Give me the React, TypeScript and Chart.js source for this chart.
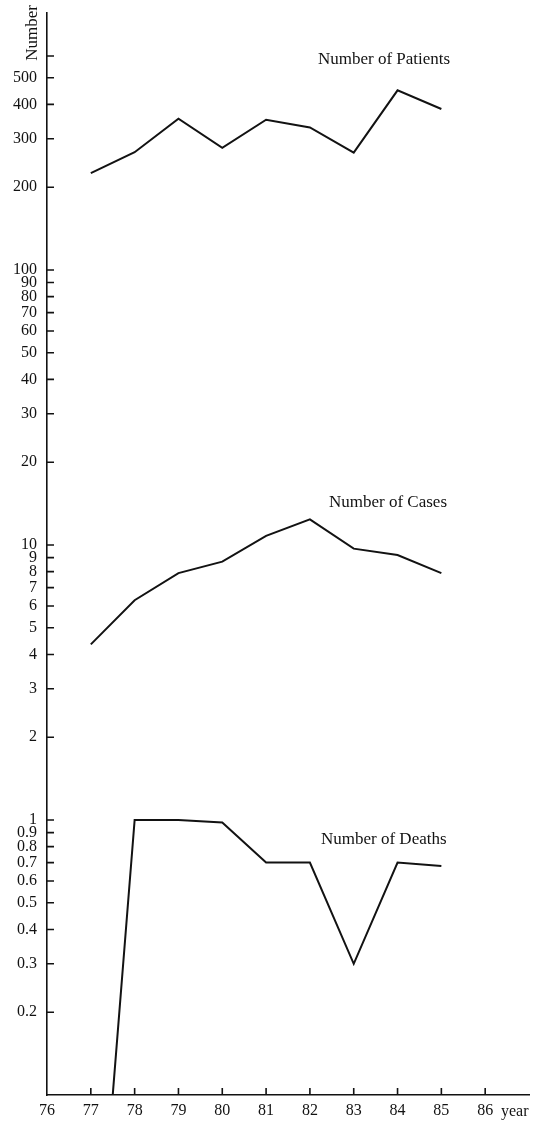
import { useEffect, useRef } from "react";
import { Chart, registerables } from "chart.js";

Chart.register(...registerables);

// ---- data ----
const years = [77, 78, 79, 80, 81, 82, 83, 84, 85];
const patients = [225, 268, 355, 278, 352, 330, 267, 450, 385];
const cases = [4.35, 6.3, 7.9, 8.7, 10.8, 12.4, 9.7, 9.2, 7.9];
const deaths = [0.01, 1.0, 1.0, 0.98, 0.7, 0.7, 0.3, 0.7, 0.68];

const yTickValues = [
  0.2, 0.3, 0.4, 0.5, 0.6, 0.7, 0.8, 0.9, 1,
  2, 3, 4, 5, 6, 7, 8, 9, 10,
  20, 30, 40, 50, 60, 70, 80, 90, 100,
  200, 300, 400, 500, 600,
];
const yUnlabeled = [600];
const xTickValues = [76, 77, 78, 79, 80, 81, 82, 83, 84, 85, 86];

const seriesNames = ["Number of Patients", "Number of Cases", "Number of Deaths"];
const yAxisTitle = "Number";
const xAxisTitle = "year";

export default function App() {
  const ref = useRef<HTMLCanvasElement>(null);

  useEffect(() => {
    const canvas = ref.current;
    if (!canvas) return;
    const ink = "#121212";
    const serif = '"Liberation Serif", "DejaVu Serif", serif';
    const toPoints = (vals: number[]) => years.map((x, i) => ({ x, y: vals[i] }));

    const annotate = {
      id: "annotate",
      afterDraw(chart: any) {
        const { ctx, chartArea: a, scales } = chart;
        const xs = scales.x;
        const ys = scales.y;
        ctx.save();
        ctx.strokeStyle = ink;
        ctx.lineWidth = 1.6;
        ctx.beginPath();
        for (const v of yTickValues) {
          const p = ys.getPixelForValue(v);
          ctx.moveTo(a.left, p);
          ctx.lineTo(a.left + 7, p);
        }
        for (const v of xTickValues) {
          if (v === xs.min) continue;
          const p = xs.getPixelForValue(v);
          ctx.moveTo(p, a.bottom);
          ctx.lineTo(p, a.bottom - 7);
        }
        ctx.stroke();

        ctx.fillStyle = ink;
        ctx.font = `17px ${serif}`;
        ctx.textAlign = "left";
        ctx.textBaseline = "alphabetic";
        ctx.fillText(seriesNames[0], 318, 64);
        ctx.fillText(seriesNames[1], 329, 507);
        ctx.fillText(seriesNames[2], 321, 844);

        ctx.font = `16px ${serif}`;
        ctx.textBaseline = "middle";
        ctx.fillText(xAxisTitle, 501, 1112);

        ctx.translate(33, 33);
        ctx.rotate(-Math.PI / 2);
        ctx.textAlign = "center";
        ctx.font = `17px ${serif}`;
        ctx.fillText(yAxisTitle, 0, 0);
        ctx.restore();
      },
    };

    const lineStyle = {
      borderColor: ink,
      borderWidth: 2,
      pointRadius: 0,
      tension: 0,
      fill: false,
      borderJoinStyle: "miter" as const,
    };

    const chart = new Chart(canvas, {
      type: "line",
      data: {
        datasets: [
          { label: seriesNames[0], data: toPoints(patients), ...lineStyle },
          { label: seriesNames[1], data: toPoints(cases), ...lineStyle },
          { label: seriesNames[2], data: toPoints(deaths), ...lineStyle },
        ],
      },
      options: {
        responsive: false,
        animation: false,
        layout: { padding: { top: 13, right: 14, left: 0, bottom: 0 } },
        plugins: {
          legend: { display: false },
          tooltip: { enabled: false },
        },
        scales: {
          x: {
            type: "linear",
            min: 76,
            max: 87,
            bounds: "data",
            afterBuildTicks: (s: any) => {
              s.ticks = xTickValues.map((v) => ({ value: v }));
            },
            afterFit: (s: any) => {
              s.height = 28;
              s.paddingLeft = 0;
              s.paddingRight = 0;
            },
            grid: { display: false, drawTicks: false },
            border: { display: true, color: ink, width: 1.6 },
            ticks: {
              autoSkip: false,
              maxRotation: 0,
              padding: 6,
              color: ink,
              font: { family: serif, size: 16 },
              callback: (v: any) => String(v),
            },
          },
          y: {
            type: "logarithmic",
            min: 0.1,
            max: 860,
            bounds: "data",
            afterBuildTicks: (s: any) => {
              s.ticks = yTickValues.map((v) => ({ value: v }));
            },
            afterFit: (s: any) => {
              s.width = 47;
              s.paddingTop = 0;
              s.paddingBottom = 0;
            },
            grid: { display: false, drawTicks: false },
            border: { display: true, color: ink, width: 1.6 },
            ticks: {
              autoSkip: false,
              padding: 10,
              color: ink,
              font: { family: serif, size: 16 },
              callback: (v: any) => (yUnlabeled.includes(Number(v)) ? "" : String(v)),
            },
          },
        },
      },
      plugins: [annotate],
    });

    return () => chart.destroy();
  }, []);

  return (
    <div style={{ position: "absolute", left: 0, top: 0, width: 543, height: 1123, background: "#fff" }}>
      <canvas ref={ref} width={543} height={1123} style={{ display: "block" }} />
    </div>
  );
}
